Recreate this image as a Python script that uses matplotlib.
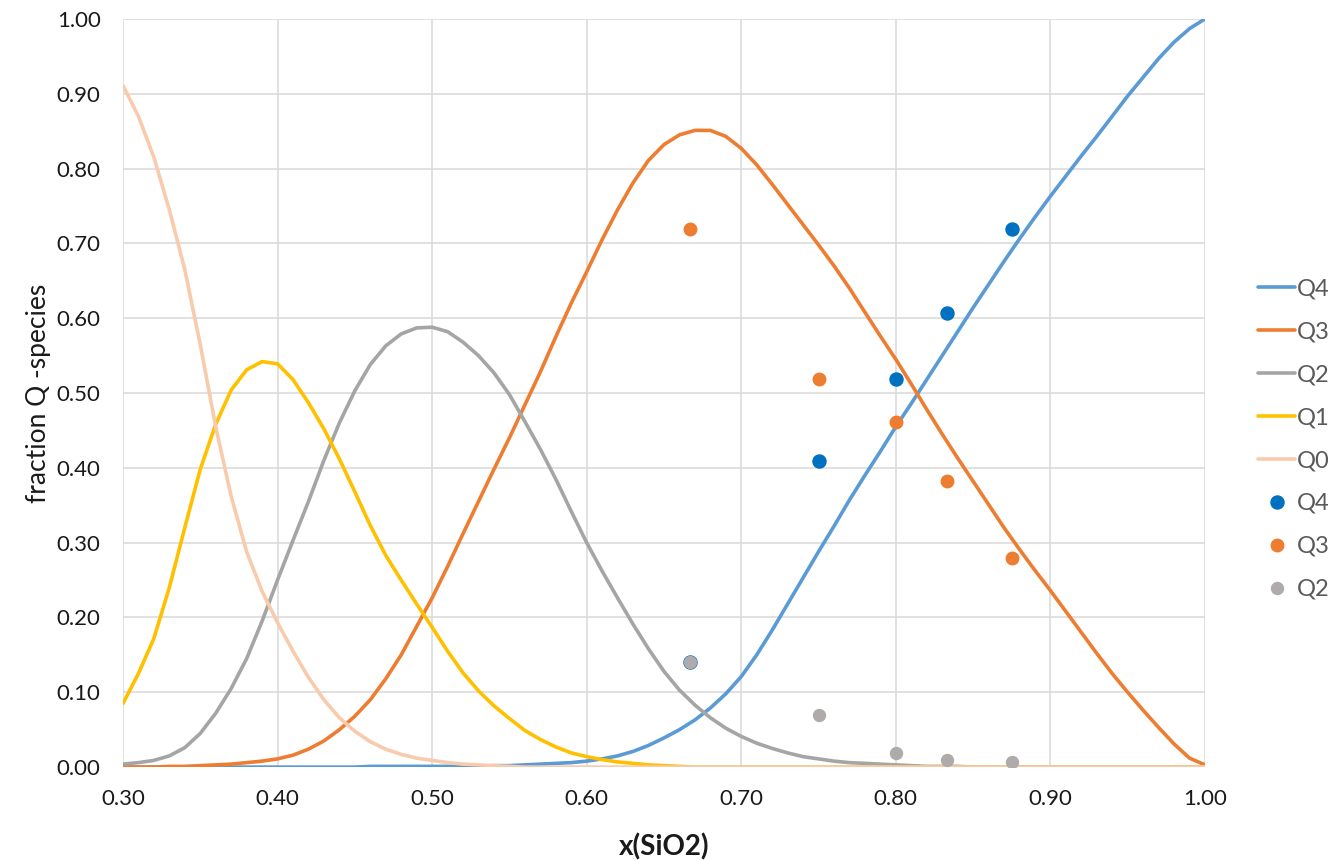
import numpy as np
import matplotlib
matplotlib.use("Agg")
import matplotlib.pyplot as plt
from matplotlib.ticker import FormatStrFormatter

plt.rcParams["font.family"] = ["Lato", "DejaVu Sans"]

# model curves, x(SiO2) from 0.30 to 1.00 in steps of 0.01
x_model = np.round(np.arange(0.30, 1.0001, 0.01), 2)

q0_line = [0.911, 0.870, 0.815, 0.745, 0.665, 0.565, 0.455, 0.362, 0.288, 0.235,
           0.193, 0.155, 0.120, 0.090, 0.066, 0.048, 0.034, 0.024, 0.017, 0.012,
           0.009, 0.006, 0.004, 0.003, 0.002, 0.001] + [0.0] * 45
q1_line = [0.085, 0.125, 0.172, 0.240, 0.320, 0.398, 0.458, 0.504, 0.531, 0.542,
           0.539, 0.518, 0.487, 0.452, 0.412, 0.368, 0.323, 0.283, 0.250, 0.218,
           0.187, 0.155, 0.126, 0.102, 0.082, 0.065, 0.049, 0.037, 0.027, 0.019,
           0.014, 0.010, 0.007, 0.005, 0.003, 0.002, 0.001] + [0.0] * 34
q2_line = [0.004, 0.006, 0.009, 0.015, 0.026, 0.045, 0.072, 0.105, 0.145, 0.195,
           0.250, 0.303, 0.355, 0.410, 0.460, 0.503, 0.538, 0.563, 0.579, 0.587,
           0.588, 0.582, 0.568, 0.550, 0.527, 0.498, 0.462, 0.425, 0.385, 0.342,
           0.300, 0.262, 0.226, 0.191, 0.158, 0.128, 0.103, 0.083, 0.066, 0.052,
           0.041, 0.032, 0.025, 0.019, 0.014, 0.011, 0.008, 0.006, 0.005, 0.004,
           0.003, 0.002, 0.001, 0.001, 0.001] + [0.0] * 16
q3_line = [0.000, 0.000, 0.000, 0.001, 0.001, 0.002, 0.003, 0.004, 0.006, 0.008,
           0.011, 0.016, 0.024, 0.035, 0.050, 0.068, 0.090, 0.118, 0.150, 0.188,
           0.226, 0.268, 0.312, 0.355, 0.398, 0.440, 0.484, 0.528, 0.575, 0.620,
           0.662, 0.705, 0.745, 0.781, 0.811, 0.832, 0.845, 0.851, 0.851, 0.843,
           0.827, 0.805, 0.779, 0.752, 0.725, 0.698, 0.670, 0.640, 0.608, 0.576,
           0.545, 0.512, 0.478, 0.445, 0.413, 0.382, 0.351, 0.320, 0.291, 0.263,
           0.236, 0.208, 0.180, 0.152, 0.125, 0.100, 0.076, 0.053, 0.031, 0.012,
           0.003]
q4_line = [0.0] * 16 + [0.001] * 8 + [
           0.002, 0.002, 0.003, 0.004, 0.005, 0.006,
           0.008, 0.011, 0.015, 0.021, 0.029, 0.039, 0.050, 0.063, 0.079, 0.098,
           0.121, 0.150, 0.183, 0.218, 0.253, 0.288, 0.322, 0.357, 0.390, 0.422,
           0.455, 0.486, 0.518, 0.550, 0.582, 0.614, 0.645, 0.676, 0.706, 0.735,
           0.763, 0.790, 0.817, 0.843, 0.870, 0.897, 0.922, 0.947, 0.969, 0.987,
           1.000]

# measured points
x_meas = [0.667, 0.750, 0.800, 0.833, 0.875]
q4_meas = [0.141, 0.409, 0.519, 0.607, 0.719]
q3_meas = [0.719, 0.519, 0.461, 0.383, 0.279]
q2_meas = [0.140, 0.069, 0.019, 0.009, 0.007]

fig = plt.figure(figsize=(13.35, 8.6), dpi=100)
ax = fig.add_axes([0.0921, 0.108, 0.8105, 0.870])

lines = [("Q4", q4_line, "#5B9BD5"), ("Q3", q3_line, "#ED7D31"),
         ("Q2", q2_line, "#A5A5A5"), ("Q1", q1_line, "#FFC000"),
         ("Q0", q0_line, "#F8CBAD")]
for name, ys, c in lines:
    ax.plot(x_model, ys, color=c, lw=2.6, label=name, solid_capstyle="round",
            solid_joinstyle="round", zorder=3)

pts = [("Q4", q4_meas, "#0070C0", 9.4), ("Q3", q3_meas, "#ED7D31", 9),
       ("Q2", q2_meas, "#AFABAB", 8.6)]
for name, ys, c, ms in pts:
    ax.plot(x_meas, ys, ls="none", marker="o", ms=ms, color=c, mec=c, label=name, zorder=4)

ax.set_xlim(0.30, 1.00)
ax.set_ylim(0.0, 1.0)
ax.set_xticks(np.arange(0.30, 1.0001, 0.10))
ax.set_yticks(np.arange(0.0, 1.0001, 0.10))
ax.xaxis.set_major_formatter(FormatStrFormatter("%.2f"))
ax.yaxis.set_major_formatter(FormatStrFormatter("%.2f"))
ax.tick_params(length=0, labelsize=16, colors="#1a1a1a")
ax.tick_params(axis="x", pad=16)
ax.tick_params(axis="y", pad=16)
ax.grid(True, color="#D9D9D9", lw=1.1, zorder=0)
ax.set_axisbelow(True)
for s in ax.spines.values():
    s.set_visible(False)

ax.set_xlabel("x(SiO2)", fontsize=20, fontweight="bold", color="#1a1a1a", labelpad=17)
ax.set_ylabel("fraction Q -species", fontsize=19, color="#1a1a1a", labelpad=4)

fig.legend(loc="center left", bbox_to_anchor=(0.9355, 0.4895), frameon=False,
           fontsize=17, labelcolor="#595959", handlelength=1.55, handletextpad=0.08,
           labelspacing=0.93, borderaxespad=0.0)

fig.savefig("out.png", dpi=100)
plt.close(fig)
